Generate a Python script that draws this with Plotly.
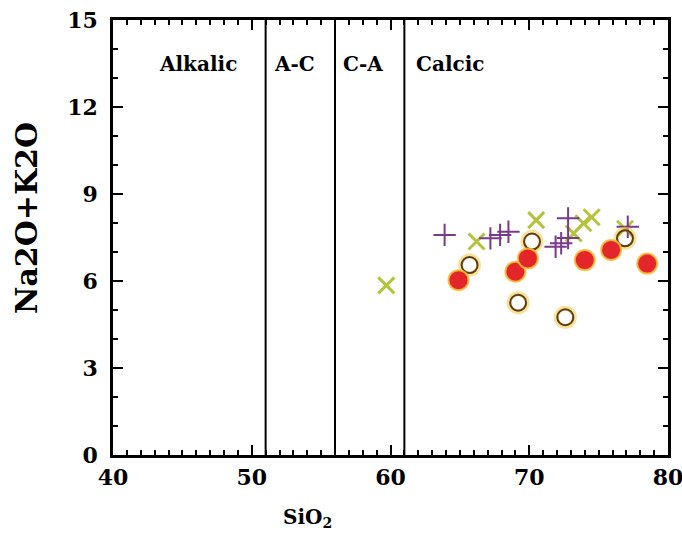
import plotly.graph_objects as go

# Data
red_x = [64.9, 69.0, 69.9, 74.0, 75.9, 78.5]
red_y = [6.03, 6.32, 6.78, 6.72, 7.07, 6.60]

open_x = [65.7, 70.2, 69.2, 72.6, 76.9]
open_y = [6.55, 7.36, 5.25, 4.75, 7.47]

cross_x = [59.7, 66.2, 70.5, 73.2, 73.9, 74.5, 76.9]
cross_y = [5.85, 7.36, 8.10, 7.64, 7.99, 8.20, 7.80]

plus_x = [63.9, 67.2, 67.9, 68.5, 71.9, 72.3, 72.8, 72.8, 77.1]
plus_y = [7.59, 7.47, 7.59, 7.70, 7.18, 7.30, 7.48, 8.16, 7.87]

boundaries = [51, 56, 61]
region_labels = ["Alkalic", "A-C", "C-A", "Calcic"]
region_label_x = [43.2, 51.45, 56.45, 61.7]
region_label_y = 13.5

x_ticks = [40, 50, 60, 70, 80]
y_ticks = [0, 3, 6, 9, 12, 15]

FONT = "DejaVu Serif"

fig = go.Figure()

fig.add_trace(go.Scatter(
    x=cross_x, y=cross_y, mode="markers",
    marker=dict(symbol="x-thin", size=16, line=dict(color="#b4c43a", width=3)),
    showlegend=False))
fig.add_trace(go.Scatter(
    x=plus_x, y=plus_y, mode="markers",
    marker=dict(symbol="cross-thin", size=16, line=dict(color="#7a3a8c", width=2)),
    showlegend=False))
fig.add_trace(go.Scatter(
    x=open_x, y=open_y, mode="markers",
    marker=dict(symbol="circle", size=18, color="rgba(255,255,255,0)",
                line=dict(color="rgba(245,200,60,0.55)", width=5)),
    showlegend=False))
fig.add_trace(go.Scatter(
    x=open_x, y=open_y, mode="markers",
    marker=dict(symbol="circle-open", size=16, color="#5a3b1c",
                line=dict(color="#5a3b1c", width=2)),
    showlegend=False))
fig.add_trace(go.Scatter(
    x=red_x, y=red_y, mode="markers",
    marker=dict(symbol="circle", size=20, color="#e3262b",
                line=dict(color="rgba(245,190,50,0.85)", width=2)),
    showlegend=False))

for b in boundaries:
    fig.add_shape(type="line", x0=b, x1=b, y0=0, y1=15, xref="x", yref="y",
                  line=dict(color="black", width=2))

for lab, lx in zip(region_labels, region_label_x):
    fig.add_annotation(x=lx, y=region_label_y, text=lab, showarrow=False,
                       xanchor="left", yanchor="middle",
                       font=dict(family=FONT, size=20, color="black", weight="bold"))

# Axis titles as annotations for precise placement (page px relative to plot area 113..668 x 20..455)
fig.add_annotation(text="SiO<sub>2</sub>", xref="paper", yref="paper",
                   x=(307 - 113) / 555, y=-(518 - 455) / 435,
                   xanchor="center", yanchor="middle", showarrow=False,
                   font=dict(family=FONT, size=20, color="black", weight="bold"))
fig.add_annotation(text="Na2O+K2O", xref="paper", yref="paper",
                   x=-(113 - 26) / 555, y=(455 - 218) / 435, textangle=-90,
                   xanchor="center", yanchor="middle", showarrow=False,
                   font=dict(family=FONT, size=30, color="black", weight="bold"))

axis_common = dict(
    showgrid=False, zeroline=False, showline=True, linecolor="black", linewidth=2.5,
    mirror="ticks", ticks="inside", ticklen=10, tickwidth=2, tickcolor="black",
    tickfont=dict(family=FONT, size=22, color="black", weight="bold"),
    automargin=False, ticklabeloverflow="allow",
)

fig.update_xaxes(
    range=[40, 80], tickvals=x_ticks, ticklabelstandoff=1,
    minor=dict(dtick=1, ticks="inside", ticklen=5, tickwidth=1.5, tickcolor="black"),
    **axis_common)
fig.update_yaxes(
    range=[0, 15], tickvals=y_ticks, ticklabelstandoff=8,
    minor=dict(dtick=1, ticks="inside", ticklen=5, tickwidth=1.5, tickcolor="black"),
    **axis_common)

fig.update_layout(
    width=682, height=541,
    margin=dict(l=113, r=14, t=20, b=86, autoexpand=False),
    plot_bgcolor="white", paper_bgcolor="white",
)

fig.write_html(
    "out.html",
    config={"displayModeBar": False},
    post_script="document.body.style.margin='0';document.body.style.overflow='hidden';",
)
